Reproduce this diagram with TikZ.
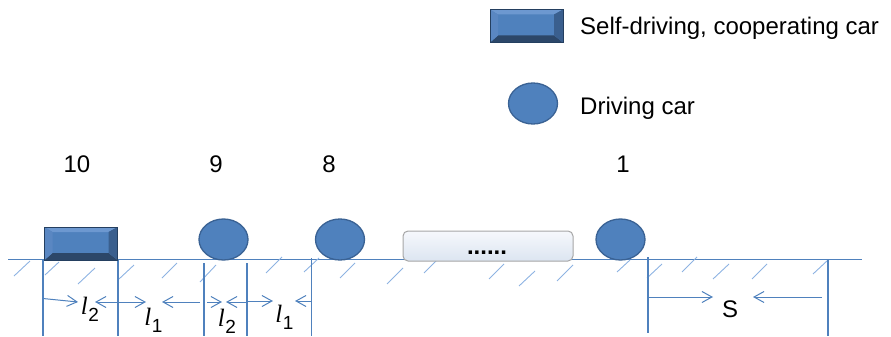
\documentclass[tikz,border=0pt]{standalone}
\usepackage{fontspec}
\setmainfont{Liberation Sans}
\newfontfamily\serifit{Liberation Serif}
\usetikzlibrary{shapes.geometric,arrows.meta}
\definecolor{carblue}{HTML}{4F81BD}
\definecolor{carborder}{HTML}{3A6294}
\definecolor{linecol}{HTML}{4F81BD}
\definecolor{hatchcol}{HTML}{8DB3E2}
\definecolor{bevtop}{HTML}{6D98D0}
\definecolor{bevleft}{HTML}{5A87C2}
\definecolor{bevright}{HTML}{3A5F8E}
\definecolor{bevbot}{HTML}{2C4769}
\definecolor{bevedge}{HTML}{243F60}
\definecolor{boxtop}{HTML}{F6F8FC}
\definecolor{boxbot}{HTML}{DCE5F1}
\definecolor{boxedge}{HTML}{A6A6A6}
\newcommand{\bigfont}{\fontsize{24}{28}\selectfont}
\newcommand{\dimlab}[1]{{\fontsize{25}{28}\selectfont\serifit\itshape l}\kern0.5pt\raisebox{-7pt}{\fontsize{19}{21}\selectfont #1}}
\tikzset{
  drivecar/.style={ellipse, fill=carblue, draw=carborder, line width=1.3pt,
    minimum width=49pt, minimum height=41pt, inner sep=0pt},
  coopcar/.style={rectangle, minimum width=73pt, minimum height=33pt, inner sep=0pt,
    fill=carblue, draw=bevedge, line width=0.8pt,
    path picture={
      \fill[bevtop] (path picture bounding box.north west) -- (path picture bounding box.north east)
        -- ([shift={(-9pt,-5pt)}]path picture bounding box.north east)
        -- ([shift={(8pt,-5pt)}]path picture bounding box.north west) -- cycle;
      \fill[bevbot] (path picture bounding box.south west) -- (path picture bounding box.south east)
        -- ([shift={(-9pt,7pt)}]path picture bounding box.south east)
        -- ([shift={(8pt,7pt)}]path picture bounding box.south west) -- cycle;
      \fill[bevleft] (path picture bounding box.north west)
        -- ([shift={(8pt,-5pt)}]path picture bounding box.north west)
        -- ([shift={(8pt,7pt)}]path picture bounding box.south west)
        -- (path picture bounding box.south west) -- cycle;
      \fill[bevright] (path picture bounding box.north east)
        -- ([shift={(-9pt,-5pt)}]path picture bounding box.north east)
        -- ([shift={(-9pt,7pt)}]path picture bounding box.south east)
        -- (path picture bounding box.south east) -- cycle;
    }},
  dotsbox/.style={rectangle, rounded corners=5pt, minimum width=170pt, minimum height=30pt,
    top color=boxtop, bottom color=boxbot, draw=boxedge, line width=1pt},
  roadline/.style={draw=linecol, line width=1.1pt},
  vline/.style={draw=linecol, line width=1.1pt},
  hatch/.style={draw=hatchcol, line width=0.9pt},
  dimline/.style={draw=linecol, line width=1pt, -{Straight Barb[length=10pt,width=11pt]}},
  dimboth/.style={draw=linecol, line width=1pt, {Straight Barb[length=10pt,width=11pt]}-{Straight Barb[length=10pt,width=11pt]}},
  txt/.style={font=\bigfont, inner sep=0pt},
}
\begin{document}
\begin{tikzpicture}[x=1pt,y=-1pt]
\useasboundingbox (0,0) rectangle (891,337);
% road
\coordinate (roadL) at (8,259.5);
\coordinate (roadR) at (862,259.5);
\draw[roadline] (roadL) -- (roadR);
% hatches
\foreach \xa/\ya/\xb/\yb in {14/276/30/261, 45/275/59/262, 78/284/95/268, 119/279/134/265,
  162/278/177/263, 200/282/216/265, 266/273/282/257, 304/272/319/258, 340/278/355/263,
  387/284/403/268, 424/273/439/258, 489/279/504/264, 519/286/535/271, 557/281/573/265,
  617/272/630/260, 647/278/662/264, 682/272/697/257, 713/279/729/264, 752/279/767/264,
  813/274/828/260}
  \draw[hatch] (\xa,\ya) -- (\xb,\yb);
% vertical dimension lines
\coordinate (v1t) at (43,260); \coordinate (v1b) at (43,336);
\coordinate (v2t) at (118,260); \coordinate (v2b) at (118,336);
\coordinate (v3t) at (204,263); \coordinate (v3b) at (204,336);
\coordinate (v4t) at (247,263); \coordinate (v4b) at (247,336);
\coordinate (v5t) at (311.5,258); \coordinate (v5b) at (311.5,336);
\coordinate (v6t) at (648,257); \coordinate (v6b) at (648,333);
\coordinate (v7t) at (828,259); \coordinate (v7b) at (828,336);
\foreach \v in {1,...,7} \draw[vline] (v\v t) -- (v\v b);
% cars
\node[coopcar] (car10) at (81,243.5) {};
\node[drivecar] (car9) at (223.5,239.5) {};
\node[drivecar] (car8) at (340,239.5) {};
\node[dotsbox] (gap) at (488,246) {};
\node[drivecar] (car1) at (620.5,239.5) {};
\node[anchor=base, inner sep=0pt, font=\fontsize{24}{28}\selectfont\bfseries] (dots) at (487,254) {......};
% numbers
\node[txt, anchor=base] (n10) at (77,172) {10};
\node[txt, anchor=base] (n9) at (216,172) {9};
\node[txt, anchor=base] (n8) at (329,172) {8};
\node[txt, anchor=base] (n1) at (623,172) {1};
% dimension arrows
\coordinate (a1s) at (43,298.5); \coordinate (a1e) at (78,302);
\draw[dimline] (a1s) -- (a1e);
\coordinate (a2s) at (95,302); \coordinate (a2e) at (146,302);
\draw[dimboth] (a2s) -- (a2e);
\coordinate (a3s) at (200,302); \coordinate (a3e) at (162,302);
\draw[dimline] (a3s) -- (a3e);
\coordinate (a4s) at (207,302); \coordinate (a4e) at (222,302);
\draw[dimline] (a4s) -- (a4e);
\coordinate (a5s) at (247,302); \coordinate (a5e) at (226,302);
\draw[dimline] (a5s) -- (a5e);
\coordinate (a6s) at (247,301); \coordinate (a6e) at (273,301);
\draw[dimline] (a6s) -- (a6e);
\coordinate (a7s) at (311.5,301); \coordinate (a7e) at (295,301);
\draw[dimline] (a7s) -- (a7e);
\coordinate (s1s) at (648,297); \coordinate (s1e) at (713,297);
\draw[dimline] (s1s) -- (s1e);
\coordinate (s2s) at (822,297); \coordinate (s2e) at (753,297);
\draw[dimline] (s2s) -- (s2e);
% dimension labels
\node[anchor=base, inner sep=0pt] (l2a) at (90,314) {\dimlab{2}};
\node[anchor=base, inner sep=0pt] (l1a) at (153.5,325) {\dimlab{1}};
\node[anchor=base, inner sep=0pt] (l2b) at (227,326) {\dimlab{2}};
\node[anchor=base, inner sep=0pt] (l1b) at (284.5,322) {\dimlab{1}};
\node[txt, anchor=base] (S) at (730,317) {S};
% legend
\node[coopcar] (legcoop) at (526.5,26) {};
\node[txt, anchor=base west] (legcooptxt) at (580,35) {Self-driving, cooperating car};
\node[drivecar] (legdrive) at (533,103.5) {};
\node[txt, anchor=base west] (legdrivetxt) at (580,114) {Driving car};
\end{tikzpicture}
\end{document}
